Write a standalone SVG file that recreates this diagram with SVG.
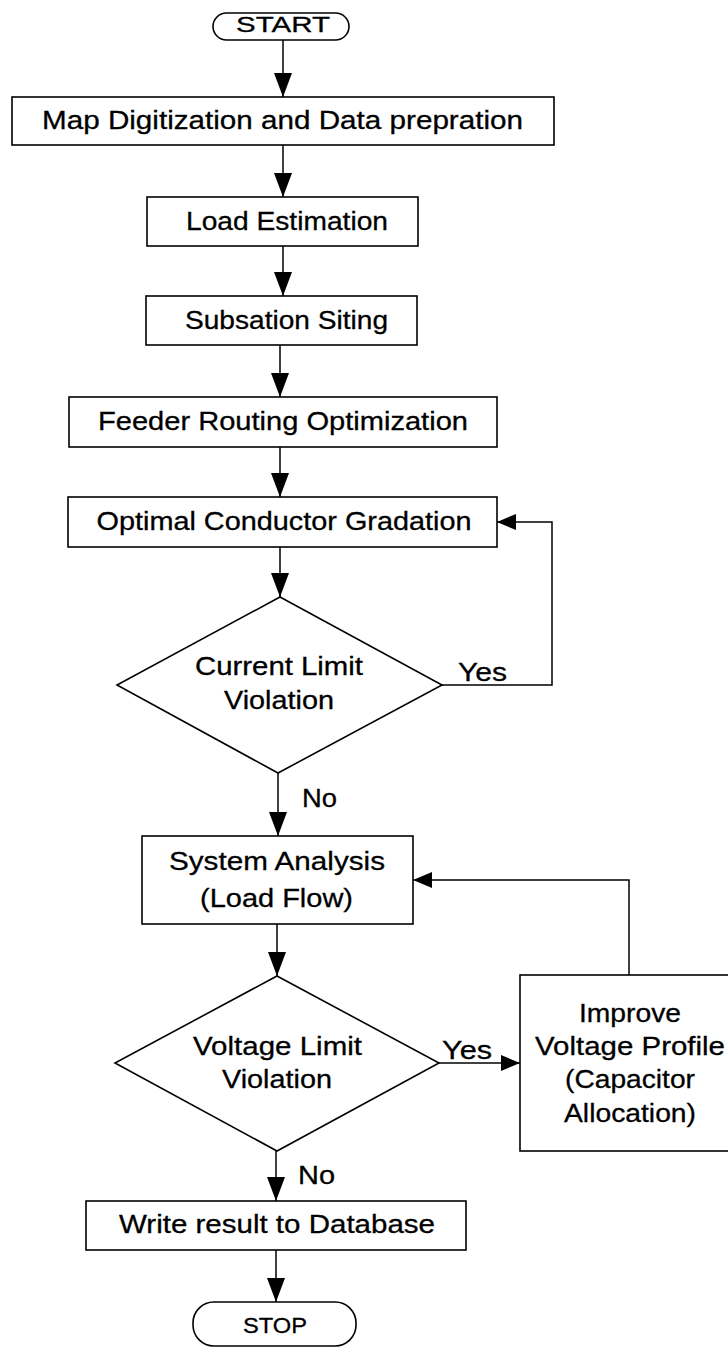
<svg xmlns="http://www.w3.org/2000/svg" width="728" height="1349" viewBox="0 0 728 1349">
  <style>
    .shape { fill: #ffffff; stroke: #000000; stroke-width: 1.6; }
    .wire { fill: none; stroke: #000000; stroke-width: 1.5; }
    text { font-family: "Liberation Sans", Arial, Helvetica, sans-serif; font-size: 26px; fill: #000000; stroke: #000000; stroke-width: 0.3; }
    .c { text-anchor: middle; }
    .term { font-size: 22px; }
  </style>
  <defs>
    <!-- large head for the vertical flow arrows -->
    <marker id="arrow" markerUnits="userSpaceOnUse" markerWidth="25" markerHeight="18" refX="24" refY="9" orient="auto">
      <path d="M0,0 L24,9 L0,18 Z" fill="#000000"/>
    </marker>
    <!-- smaller head for the side loops -->
    <marker id="arrow-side" markerUnits="userSpaceOnUse" markerWidth="20" markerHeight="16" refX="19" refY="8" orient="auto">
      <path d="M0,0 L19,8 L0,16 Z" fill="#000000"/>
    </marker>
  </defs>

  <rect width="728" height="1349" fill="#ffffff"/>

  <!-- connectors -->
  <g id="connectors">
    <path class="wire" d="M283,40 L283,97" marker-end="url(#arrow)"/>
    <path class="wire" d="M283,145 L283,197" marker-end="url(#arrow)"/>
    <path class="wire" d="M283,246 L283,296" marker-end="url(#arrow)"/>
    <path class="wire" d="M280,345 L280,397" marker-end="url(#arrow)"/>
    <path class="wire" d="M280,447 L280,497" marker-end="url(#arrow)"/>
    <path class="wire" d="M280,547 L280,597" marker-end="url(#arrow)"/>
    <path class="wire" d="M442,685 L552,685 L552,522 L497,522" marker-end="url(#arrow-side)"/>
    <path class="wire" d="M278,773 L278,836" marker-end="url(#arrow)"/>
    <path class="wire" d="M277,924 L277,976" marker-end="url(#arrow)"/>
    <path class="wire" d="M439,1063 L520,1063" marker-end="url(#arrow-side)"/>
    <path class="wire" d="M629,975 L629,880 L413,880" marker-end="url(#arrow-side)"/>
    <path class="wire" d="M276,1151 L276,1201" marker-end="url(#arrow)"/>
    <path class="wire" d="M276,1250 L276,1302" marker-end="url(#arrow)"/>
    <text x="458" y="681" textLength="49" lengthAdjust="spacingAndGlyphs">Yes</text>
    <text x="302" y="807" textLength="35" lengthAdjust="spacingAndGlyphs">No</text>
    <text x="442" y="1059" textLength="50" lengthAdjust="spacingAndGlyphs">Yes</text>
    <text x="298" y="1184" textLength="37" lengthAdjust="spacingAndGlyphs">No</text>
  </g>

  <g id="start">
    <rect class="shape" x="213" y="13" width="136" height="27" rx="13.5"/>
    <text class="c term" x="283" y="32" textLength="94" lengthAdjust="spacingAndGlyphs">START</text>
  </g>

  <g id="map-digitization">
    <rect class="shape" x="12" y="97" width="542" height="48"/>
    <text class="c" x="282.5" y="129" font-size="27" textLength="481" lengthAdjust="spacingAndGlyphs">Map Digitization and Data prepration</text>
  </g>

  <g id="load-estimation">
    <rect class="shape" x="147" y="197" width="271" height="49"/>
    <text class="c" x="287" y="230" textLength="202" lengthAdjust="spacingAndGlyphs">Load Estimation</text>
  </g>

  <g id="substation-siting">
    <rect class="shape" x="146" y="296" width="271" height="49"/>
    <text class="c" x="286.5" y="329" textLength="203" lengthAdjust="spacingAndGlyphs">Subsation Siting</text>
  </g>

  <g id="feeder-routing">
    <rect class="shape" x="69" y="397" width="428" height="50"/>
    <text class="c" x="283" y="430" textLength="370" lengthAdjust="spacingAndGlyphs">Feeder Routing Optimization</text>
  </g>

  <g id="conductor-gradation">
    <rect class="shape" x="68" y="497" width="429" height="50"/>
    <text class="c" x="284" y="530" textLength="375" lengthAdjust="spacingAndGlyphs">Optimal Conductor Gradation</text>
  </g>

  <g id="current-limit">
    <polygon class="shape" points="280,597 442,685 278,773 117,685"/>
    <text class="c" x="279" y="675" textLength="168" lengthAdjust="spacingAndGlyphs">Current Limit</text>
    <text class="c" x="279" y="709" textLength="110" lengthAdjust="spacingAndGlyphs">Violation</text>
  </g>

  <g id="system-analysis">
    <rect class="shape" x="142" y="836" width="271" height="88"/>
    <text class="c" x="277" y="870" textLength="216" lengthAdjust="spacingAndGlyphs">System Analysis</text>
    <text class="c" x="276.5" y="907" textLength="153" lengthAdjust="spacingAndGlyphs">(Load Flow)</text>
  </g>

  <g id="voltage-limit">
    <polygon class="shape" points="277,976 439,1063 277,1151 115,1063"/>
    <text class="c" x="277.5" y="1055" textLength="169" lengthAdjust="spacingAndGlyphs">Voltage Limit</text>
    <text class="c" x="277" y="1088" textLength="110" lengthAdjust="spacingAndGlyphs">Violation</text>
  </g>

  <g id="improve-voltage">
    <rect class="shape" x="520" y="975" width="216" height="176"/>
    <text class="c" x="630" y="1022" textLength="102" lengthAdjust="spacingAndGlyphs">Improve</text>
    <text class="c" x="630" y="1055" textLength="190" lengthAdjust="spacingAndGlyphs">Voltage Profile</text>
    <text class="c" x="630" y="1088" textLength="130" lengthAdjust="spacingAndGlyphs">(Capacitor</text>
    <text class="c" x="630" y="1122" textLength="132" lengthAdjust="spacingAndGlyphs">Allocation)</text>
  </g>

  <g id="write-result">
    <rect class="shape" x="86" y="1201" width="380" height="49"/>
    <text class="c" x="277" y="1233" textLength="316" lengthAdjust="spacingAndGlyphs">Write result to Database</text>
  </g>

  <g id="stop">
    <rect class="shape" x="193" y="1302" width="163" height="44" rx="21"/>
    <text class="c term" x="275" y="1333" textLength="64" lengthAdjust="spacingAndGlyphs">STOP</text>
  </g>
</svg>
